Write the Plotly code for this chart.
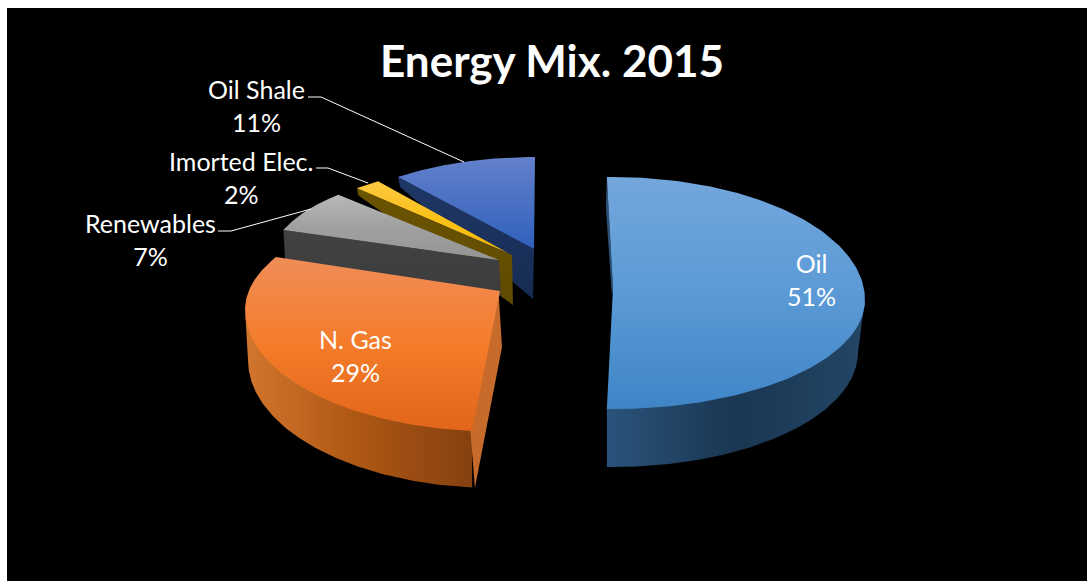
import numpy as np
import plotly.graph_objects as go

# ---- data ----
categories = ["Oil", "N. Gas", "Renewables", "Imorted Elec.", "Oil Shale"]
shares = [51, 29, 7, 2, 11]
title_text = "Energy Mix. 2015"

# ---- drawing style: per-slice projection of the exploded 3-D pie ----
STYLE = {
    "Oil": dict(c=(613, 300), rx=252, ry=(123, 109), apex=(613, 288), d=(-1.4, -2.2),
                top=["#74a7dc", "#5b9ad6", "#3f85c6"],
                cut=dict(rim=(-1, 30), apex=[(-1, 8)], col=["#2a5278", "#2a5278"], kind="vertical"),
                wall=dict(rng="end", span=90, c=(613, 352), rx=245, ry=115,
                          col=["#2a537b", "#1a3651", "#234666"])),
    "N. Gas": dict(c=(495, 310), rx=250, ry=(110, 121.5), apex=(500, 291), d=(1.7, 10.8),
                   top=["#f08d58", "#f47c2a", "#e2661a"],
                   cut=None, near=dict(rim=(3, 57), apex=(2, 56), col="#c66b2c"),
                   wall=dict(rng="start", span=270, c=(495, 360), rx=247, ry=128,
                             col=["#d2762e", "#ad5714", "#85400f"])),
    "Renewables": dict(c=(499, 260), rx=228, ry=(92, 92), apex=(499, 260), d=(1, 2),
                       top=["#b8b8b8", "#a0a0a0", "#959595"],
                       cut=dict(rim=(2, 36), apex=[(2, 36)], col=["#424242", "#3c3c3c"], kind="vertical"),
                       wall=None),
    "Imorted Elec.": dict(c=(508, 253), rx=220, ry=(89, 89), apex=(508, 253), d=(3.5, 3.4),
                          top=["#fdc840", "#fcc21a", "#f8b800"],
                          cut=dict(rim=(1, 7), apex=[(4, 2), (5, 52)], col=["#6b5400", "#5f4a00"], kind="vertical"),
                          wall=None),
    "Oil Shale": dict(c=(535, 249), rx=220, ry=(92, 92), apex=(534, 249), d=(1.1, 0),
                      top=["#6381cb", "#4a70c4", "#2f60bc"],
                      cut=dict(rim=(2, 10), apex=[(-1, 50)], col=["#1f3766", "#172c52"], kind="vertical"),
                      wall=None),
}
DRAW_ORDER = ["Oil Shale", "Imorted Elec.", "Renewables", "N. Gas", "Oil"]
LABELS = {
    "Oil": (811, 279), "N. Gas": (355, 355), "Renewables": (150, 239),
    "Imorted Elec.": (241, 177), "Oil Shale": (256, 105),
}
LEADERS = [
    [(308, 97), (321, 97), (464, 162)],
    [(316, 168), (328, 168), (368, 183)],
    [(218, 231), (231, 231), (311, 209)],
]


def rim(tdeg, c, rx, ry):
    t = np.radians(np.asarray(tdeg, dtype=float))
    cos = np.cos(t)
    y = np.where(cos >= 0, c[1] - ry[0] * cos, c[1] - ry[1] * cos)
    return c[0] + rx * np.sin(t), y


def gradient(colors, kind="vertical"):
    # the y axis is reversed, so a top-to-bottom list runs backwards along it
    seq = colors[::-1] if kind == "vertical" else colors
    n = len(seq) - 1
    return dict(type=kind, colorscale=[[i / n, col] for i, col in enumerate(seq)])


def poly(fig, xs, ys, colors, kind="vertical", name=None):
    kw = dict(fillgradient=gradient(colors, kind)) if isinstance(colors, list) else dict(fillcolor=colors)
    fig.add_trace(go.Scatter(x=list(xs), y=list(ys), mode="lines", fill="toself",
                             line=dict(width=0), hoverinfo="skip", showlegend=False,
                             name=name, **kw))


# angular extents follow the values
edges = np.cumsum([0] + shares) / sum(shares) * 360
extent = {n: (edges[i], edges[i + 1]) for i, n in enumerate(categories)}

fig = go.Figure()
for name in DRAW_ORDER:
    s = STYLE[name]
    t0 = extent[name][0] + s["d"][0]
    t1 = extent[name][1] + s["d"][1]
    ax, ay = s["apex"]
    # cut face behind the top
    if s.get("cut"):
        cut = s["cut"]
        rx0, ry0 = rim(t0, s["c"], s["rx"], s["ry"])
        xs = [float(rx0), ax] + [ax + o[0] for o in cut["apex"]] + [float(rx0) + cut["rim"][0]]
        ys = [float(ry0), ay] + [ay + o[1] for o in cut["apex"]] + [float(ry0) + cut["rim"][1]]
        poly(fig, xs, ys, cut["col"], cut["kind"], name)
    # outer wall (its upper edge tucks 1.5 px under the top face to avoid a seam)
    if s.get("wall"):
        w = s["wall"]
        a, b = (w["span"], t1) if w["rng"] == "end" else (t0, w["span"])
        arc = np.linspace(a, b, 120)
        tx, ty = rim(arc, s["c"], s["rx"], s["ry"])
        bx, by = rim(arc[::-1], w["c"], w["rx"], (w["ry"], w["ry"]))
        poly(fig, np.r_[tx, bx], np.r_[ty - 1.5, by], w["col"], "horizontal", name)
    # near cut face, to the right of the gas slice
    if s.get("near"):
        n = s["near"]
        rx0, ry0 = rim(t0, s["c"], s["rx"], s["ry"])
        poly(fig, [ax - 1.5, float(rx0) - 1.5, float(rx0) + n["rim"][0], ax + n["apex"][0]],
             [ay, float(ry0), float(ry0) + n["rim"][1], ay + n["apex"][1]], n["col"], name=name)
    # top face
    arc = np.linspace(t0, t1, 160)
    tx, ty = rim(arc, s["c"], s["rx"], s["ry"])
    poly(fig, np.r_[ax, tx, ax], np.r_[ay, ty, ay], s["top"], "vertical", name)

for name, v in zip(categories, shares):
    x, y = LABELS[name]
    fig.add_annotation(x=x, y=y, text=f"{name}<br>{v}%", showarrow=False, align="center",
                       xanchor="center", yanchor="middle",
                       font=dict(family="Lato", size=25, color="white"))

shapes = []
for pts in LEADERS:
    path = "M " + " L ".join(f"{x},{y}" for x, y in pts)
    shapes.append(dict(type="path", path=path, line=dict(color="white", width=1), xref="x", yref="y"))

fig.update_layout(
    width=1087, height=581, margin=dict(l=7, r=0, t=8, b=0),
    paper_bgcolor="white", plot_bgcolor="black", showlegend=False, shapes=shapes,
    xaxis=dict(range=[7, 1087], visible=False, fixedrange=True),
    yaxis=dict(range=[581, 8], visible=False, fixedrange=True),
    annotations=list(fig.layout.annotations) + [
        dict(x=552, y=60, text=f"<b>{title_text}</b>", showarrow=False, xanchor="center",
             yanchor="middle", font=dict(family="Lato", size=44, color="white"))
    ],
)
fig.write_html("out.html", config=dict(displayModeBar=False),
               post_script="document.body.style.margin='0';document.body.style.overflow='hidden';")
